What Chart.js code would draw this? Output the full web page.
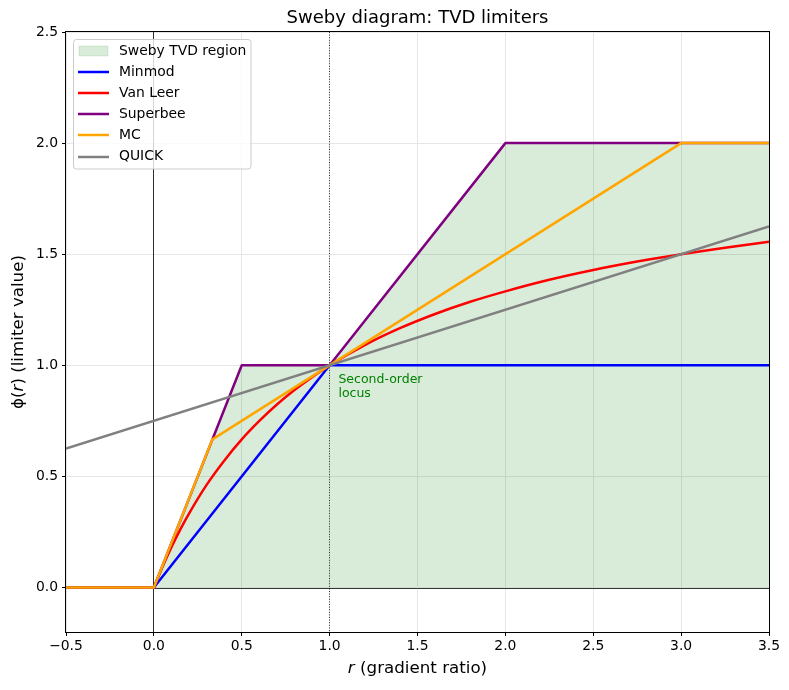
<!DOCTYPE html>
<html>
<head>
<meta charset="utf-8">
<script src="https://cdn.jsdelivr.net/npm/chart.js@4.4.1/dist/chart.umd.min.js"></script>
<style>
  body { margin: 0; background: #fff; }
  canvas { display: block; }
</style>
</head>
<body>
<canvas id="myChart" width="789" height="690"></canvas>
<script>
// values
const xTicks = [-0.5, 0, 0.5, 1, 1.5, 2, 2.5, 3, 3.5];
const yTicks = [0, 0.5, 1, 1.5, 2, 2.5];

const rRegion = [0, 0.5, 1, 2, 3.5];
const phiRegion = [0, 1, 1, 2, 2];

const rMinmod = [-0.5, 0, 1, 3.5];
const phiMinmod = [0, 0, 1, 1];

const rVanLeer = [-0.5, 0, 0.05, 0.1, 0.15, 0.2, 0.3, 0.4, 0.5, 0.6, 0.7, 0.8, 0.9, 1.0,
                  1.2, 1.4, 1.6, 1.8, 2.0, 2.25, 2.5, 2.75, 3.0, 3.25, 3.5];
const phiVanLeer = [0, 0, 0.095, 0.182, 0.261, 0.333, 0.462, 0.571, 0.667, 0.75, 0.824, 0.889, 0.947, 1.0,
                    1.091, 1.167, 1.231, 1.286, 1.333, 1.385, 1.429, 1.467, 1.5, 1.529, 1.556];

const rSuperbee = [-0.5, 0, 0.5, 1, 2, 3.5];
const phiSuperbee = [0, 0, 1, 1, 2, 2];

const rMC = [-0.5, 0, 0.333, 3, 3.5];
const phiMC = [0, 0, 0.667, 2, 2];

const rQuick = [-0.5, 3.5];
const phiQuick = [0.625, 1.625];

const pts = (xs, ys) => xs.map((x, i) => ({ x: x, y: ys[i] }));
const vanLeerPts = pts(rVanLeer, phiVanLeer);

const FONT = "DejaVu Sans";
const LW = 2.5;

const legendItems = [
  { label: "Sweby TVD region", fill: true },
  { label: "Minmod", color: "#0000ff" },
  { label: "Van Leer", color: "#ff0000" },
  { label: "Superbee", color: "#800080" },
  { label: "MC", color: "#ffa500" },
  { label: "QUICK", color: "#808080" },
];

const extras = {
  id: "extras",
  beforeDatasetsDraw(chart) {
    const { ctx, chartArea: a, scales: { x, y } } = chart;
    ctx.save();
    ctx.strokeStyle = "#000";
    ctx.lineWidth = 0.8;
    const y0 = Math.round(y.getPixelForValue(0)) + 0.5;
    const x0 = Math.round(x.getPixelForValue(0)) - 0.5;
    const x1 = Math.round(x.getPixelForValue(1)) - 0.5;
    ctx.beginPath();
    ctx.moveTo(a.left, y0);
    ctx.lineTo(a.right, y0);
    ctx.moveTo(x0, a.top);
    ctx.lineTo(x0, a.bottom);
    ctx.stroke();
    // dotted line at r = 1
    ctx.setLineDash([1, 1.6]);
    ctx.beginPath();
    ctx.moveTo(x1, a.top);
    ctx.lineTo(x1, a.bottom);
    ctx.stroke();
    ctx.restore();
  },
  afterDraw(chart) {
    const { ctx, chartArea: a, scales: { x, y } } = chart;
    ctx.save();

    // frame
    ctx.strokeStyle = "#000";
    ctx.lineWidth = 1;
    const L = Math.round(a.left) - 0.5, R = Math.round(a.right) + 0.5;
    const T = Math.round(a.top) - 0.5, B = Math.round(a.bottom) + 0.5;
    ctx.strokeRect(L, T, R - L, B - T);

    // annotation
    ctx.fillStyle = "#008000";
    ctx.font = "12.5px " + FONT;
    ctx.textBaseline = "top";
    ctx.textAlign = "left";
    const ax = x.getPixelForValue(1.05), ay = y.getPixelForValue(0.965);
    ctx.fillText("Second-order", ax, ay);
    ctx.fillText("locus", ax, ay + 14.5);

    // title
    ctx.fillStyle = "#000";
    ctx.font = "18px " + FONT;
    ctx.textAlign = "center";
    ctx.textBaseline = "middle";
    ctx.fillText("Sweby diagram: TVD limiters", (a.left + a.right) / 2, 18.5);

    // axis labels with italic r
    const drawMixed = (parts, cx, cy) => {
      let w = 0;
      parts.forEach(p => { ctx.font = p[1] + "16.7px " + FONT; w += ctx.measureText(p[0]).width; });
      let px = cx - w / 2;
      ctx.textAlign = "left";
      ctx.textBaseline = "middle";
      parts.forEach(p => {
        ctx.font = p[1] + "16.7px " + FONT;
        ctx.fillText(p[0], px, cy);
        px += ctx.measureText(p[0]).width;
      });
    };
    drawMixed([["r", "italic "], [" (gradient ratio)", ""]], (a.left + a.right) / 2, 669);
    ctx.save();
    ctx.translate(19, (a.top + a.bottom) / 2);
    ctx.rotate(-Math.PI / 2);
    drawMixed([["\u03d5(", ""], ["r", "italic "], [") (limiter value)", ""]], 0, 0);
    ctx.restore();

    // legend
    const lx = 73.5, ly = 39.5, lw = 177.5, lh = 129.5, r = 3;
    ctx.beginPath();
    ctx.moveTo(lx + r, ly);
    ctx.arcTo(lx + lw, ly, lx + lw, ly + lh, r);
    ctx.arcTo(lx + lw, ly + lh, lx, ly + lh, r);
    ctx.arcTo(lx, ly + lh, lx, ly, r);
    ctx.arcTo(lx, ly, lx + lw, ly, r);
    ctx.closePath();
    ctx.fillStyle = "rgba(255,255,255,0.8)";
    ctx.fill();
    ctx.strokeStyle = "#cccccc";
    ctx.lineWidth = 1;
    ctx.stroke();

    ctx.font = "13.9px " + FONT;
    ctx.textAlign = "left";
    ctx.textBaseline = "middle";
    legendItems.forEach((it, i) => {
      const cy = 51 + i * 21.1;
      if (it.fill) {
        ctx.fillStyle = "rgba(0,128,0,0.15)";
        ctx.fillRect(79, cy - 5, 29, 10);
        ctx.strokeStyle = "rgba(0,128,0,0.12)";
        ctx.strokeRect(79, cy - 5, 29, 10);
      } else {
        ctx.strokeStyle = it.color;
        ctx.lineWidth = LW;
        ctx.beginPath();
        ctx.moveTo(78, Math.round(cy));
        ctx.lineTo(109, Math.round(cy));
        ctx.stroke();
      }
      ctx.fillStyle = "#000";
      ctx.fillText(it.label, 119, cy);
    });

    ctx.restore();
  }
};

const tickFmt = v => (v < 0 ? "\u2212" : "") + Math.abs(v).toFixed(1);

new Chart(document.getElementById("myChart"), {
  type: "line",
  data: {
    datasets: [
      {
        label: "Sweby TVD region",
        data: pts(rRegion, phiRegion),
        fill: "origin",
        backgroundColor: "rgba(0,128,0,0.15)",
        borderWidth: 0,
        pointRadius: 0,
        order: 10,
      },
      { label: "Minmod", data: pts(rMinmod, phiMinmod), borderColor: "#0000ff", order: 5 },
      // Van Leer: flat part for r <= 0, smooth curve for r >= 0
      { label: "Van Leer", data: vanLeerPts.filter(p => p.x <= 0), borderColor: "#ff0000", order: 4 },
      { label: "Van Leer", data: vanLeerPts.filter(p => p.x >= 0), borderColor: "#ff0000",
        cubicInterpolationMode: "monotone", order: 4 },
      { label: "Superbee", data: pts(rSuperbee, phiSuperbee), borderColor: "#800080", order: 3 },
      { label: "MC", data: pts(rMC, phiMC), borderColor: "#ffa500", order: 2 },
      { label: "QUICK", data: pts(rQuick, phiQuick), borderColor: "#808080", order: 1 },
    ],
  },
  options: {
    responsive: false,
    animation: false,
    devicePixelRatio: 1,
    layout: { padding: { left: 0, right: 20, top: 32, bottom: 0 } },
    elements: {
      line: { borderWidth: LW, tension: 0, fill: false, borderJoinStyle: "round" },
      point: { radius: 0 },
    },
    plugins: {
      legend: { display: false },
      tooltip: { enabled: false },
      title: { display: false },
    },
    scales: {
      x: {
        type: "linear",
        min: -0.5,
        max: 3.5,
        afterBuildTicks: s => { s.ticks = xTicks.map(v => ({ value: v })); },
        afterFit: s => { s.height = 58; },
        ticks: { callback: tickFmt, color: "#000", font: { family: FONT, size: 13.9 }, padding: 2, maxRotation: 0 },
        grid: { color: "#e6e6e6", tickColor: "#000", tickLength: 4, lineWidth: 1 },
        border: { display: false },
      },
      y: {
        type: "linear",
        min: -0.2,
        max: 2.5,
        afterBuildTicks: s => { s.ticks = yTicks.map(v => ({ value: v })); },
        afterFit: s => { s.width = 66; },
        ticks: { callback: tickFmt, color: "#000", font: { family: FONT, size: 13.9 }, padding: 4 },
        grid: { color: "#e6e6e6", tickColor: "#000", tickLength: 4, lineWidth: 1 },
        border: { display: false },
      },
    },
  },
  plugins: [extras],
});
</script>
</body>
</html>
